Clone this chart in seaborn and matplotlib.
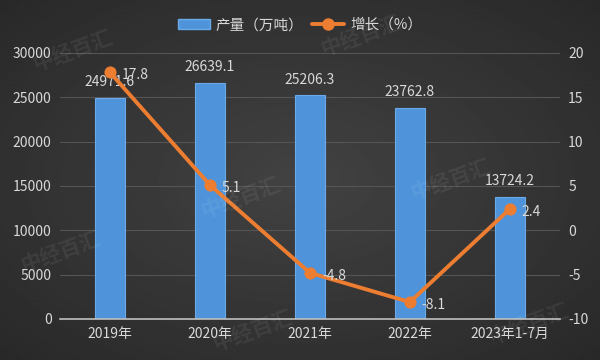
import numpy as np
import pandas as pd
import matplotlib
matplotlib.use("Agg")
import matplotlib.pyplot as plt
import seaborn as sns
from matplotlib.lines import Line2D
from matplotlib.patches import Patch

years = ["2019年", "2020年", "2021年", "2022年", "2023年1-7月"]
output = [24971.6, 26639.1, 25206.3, 23762.8, 13724.2]
growth = [17.8, 5.1, -4.8, -8.1, 2.4]

sns.set_theme(style="dark")
plt.rcParams['font.family'] = ['Noto Sans CJK SC', 'DejaVu Sans']
plt.rcParams['axes.unicode_minus'] = False

txt = "#d9d9d9"
fig = plt.figure(figsize=(6, 3.6), dpi=100)

# dark radial background
bg = fig.add_axes([0, 0, 1, 1], zorder=-10)
yy, xx = np.mgrid[-1:1:200j, -1:1:300j]
r = np.sqrt(xx**2 + yy**2) / np.sqrt(2)
bg.imshow(0.26 - 0.1 * r, cmap="gray", vmin=0, vmax=1, aspect="auto", extent=[0, 1, 0, 1])
bg.set_axis_off()

ax = fig.add_axes([0.1, 0.114, 0.833, 0.739])
ax.set_facecolor("none")
df = pd.DataFrame({"year": years, "output": output, "growth": growth})
sns.barplot(data=df, x="year", y="output", ax=ax, color="#4f94da", width=0.3,
            saturation=1, edgecolor="#6aaae8", linewidth=0.8, zorder=2)
ax.set_ylim(0, 30000)
ax.set_xlim(-0.5, 4.5)
ax.set_yticks(range(0, 30001, 5000))
ax.grid(axis="y", color="#555555", linewidth=0.8, zorder=0)
ax.set_axisbelow(True)
for s in ["top", "left", "right"]:
    ax.spines[s].set_visible(False)
ax.spines["bottom"].set_color("#bfbfbf")
ax.spines["bottom"].set_linewidth(1.2)
ax.tick_params(colors=txt, labelsize=10, length=0, pad=6)
ax.set_xlabel("")
ax.set_ylabel("")
for i, v in enumerate(output):
    ax.text(i, v + 1000, f"{v:.1f}", ha="center", va="bottom", color=txt, fontsize=10)

ax2 = ax.twinx()
sns.lineplot(data=df, x="year", y="growth", ax=ax2, color="#ed7d31", linewidth=2.8,
             marker="o", markersize=8, markeredgecolor="#ed7d31", zorder=3)
ax2.set_ylim(-10, 20)
ax2.set_yticks(range(-10, 21, 5))
ax2.set_ylabel("")
for s in ["top", "left", "right", "bottom"]:
    ax2.spines[s].set_visible(False)
ax2.tick_params(colors=txt, labelsize=10, length=0, pad=6)
for i, v in enumerate(growth):
    ax2.text(i + 0.12, v - 0.3, f"{v}", ha="left", va="center", color=txt, fontsize=10)

# watermarks
for (wx, wy) in [(0.12, 0.86), (0.6, 0.9), (0.4, 0.45), (0.75, 0.5), (0.1, 0.3), (0.88, 0.1), (0.42, 0.08)]:
    fig.text(wx, wy, "中经百汇", rotation=20, color="white", alpha=0.07, fontsize=15,
             fontweight="bold", ha="center", va="center")

handles = [Patch(facecolor="#4f94da", edgecolor="#6aaae8"),
           Line2D([0], [0], color="#ed7d31", linewidth=2.8, marker="o", markersize=8)]
fig.legend(handles, ["产量（万吨）", "增长（%）"], loc="center", bbox_to_anchor=(0.5, 0.93),
           ncol=2, frameon=False, fontsize=10.5, labelcolor=txt, handlelength=2.2,
           columnspacing=0.6, handletextpad=0.4)

fig.savefig("out.png", dpi=100)
